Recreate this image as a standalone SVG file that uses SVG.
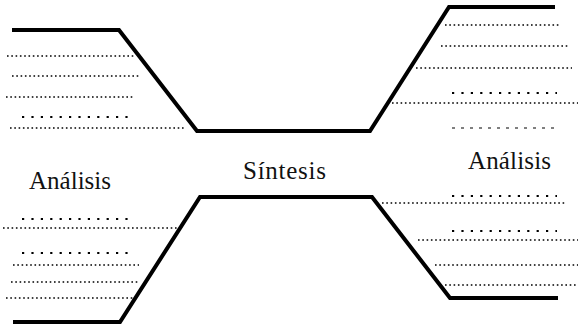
<svg xmlns="http://www.w3.org/2000/svg" width="578" height="328" viewBox="0 0 578 328">
<style>
.thick{fill:none;stroke:#000;stroke-width:4;stroke-linejoin:miter}
.dense{stroke:#000;stroke-width:1.6;stroke-dasharray:1.6 2.7}
.sparse{stroke:#000;stroke-width:2.2;stroke-dasharray:2.2 7.2}
.dash{stroke:#000;stroke-width:1.1;stroke-dasharray:3 6}
text{font-family:"Liberation Serif","Times New Roman",serif;font-size:25px;fill:#111}
</style>
<rect width="578" height="328" fill="#fff"/>
<g id="lines">
<polyline class="thick" points="12,30 119,30 197,131 370,131 449,7 555,7"/>
<polyline class="thick" points="13,322 120,322 200,197 372,197 450,298 558,298"/>
</g>
<g id="top-left">
<line class="dense" x1="7" y1="56" x2="134" y2="56"/>
<line class="dense" x1="12" y1="76" x2="139" y2="76"/>
<line class="dense" x1="6" y1="97" x2="133" y2="97"/>
<line class="sparse" x1="22" y1="117" x2="128" y2="117"/>
<line class="dense" x1="10" y1="128" x2="184" y2="128"/>
</g>
<g id="top-right">
<line class="dense" x1="445" y1="25" x2="561" y2="25"/>
<line class="dense" x1="441" y1="46" x2="568" y2="46"/>
<line class="dense" x1="416" y1="68" x2="572" y2="68"/>
<line class="sparse" x1="452" y1="93" x2="557" y2="93"/>
<line class="dense" x1="392" y1="103" x2="578" y2="103"/>
<line class="dash" x1="452" y1="128" x2="557" y2="128"/>
</g>
<g id="bottom-left">
<line class="sparse" x1="22" y1="219" x2="128" y2="219"/>
<line class="dense" x1="3" y1="228" x2="179" y2="228"/>
<line class="sparse" x1="22" y1="253" x2="128" y2="253"/>
<line class="dense" x1="13" y1="265" x2="139" y2="265"/>
<line class="dense" x1="11" y1="282" x2="139" y2="282"/>
<line class="dense" x1="6" y1="298" x2="134" y2="298"/>
</g>
<g id="bottom-right">
<line class="sparse" x1="452" y1="196" x2="557" y2="196"/>
<line class="dense" x1="382" y1="203" x2="566" y2="203"/>
<line class="sparse" x1="452" y1="231" x2="557" y2="231"/>
<line class="dense" x1="418" y1="240" x2="578" y2="240"/>
<line class="dense" x1="435" y1="265" x2="578" y2="265"/>
<line class="dense" x1="445" y1="285" x2="578" y2="285"/>
</g>
<g id="labels">
<text x="29" y="189" textLength="82" lengthAdjust="spacing">Análisis</text>
<text x="243" y="179" textLength="83" lengthAdjust="spacing">Síntesis</text>
<text x="468" y="169" textLength="83" lengthAdjust="spacing">Análisis</text>
</g>
</svg>
